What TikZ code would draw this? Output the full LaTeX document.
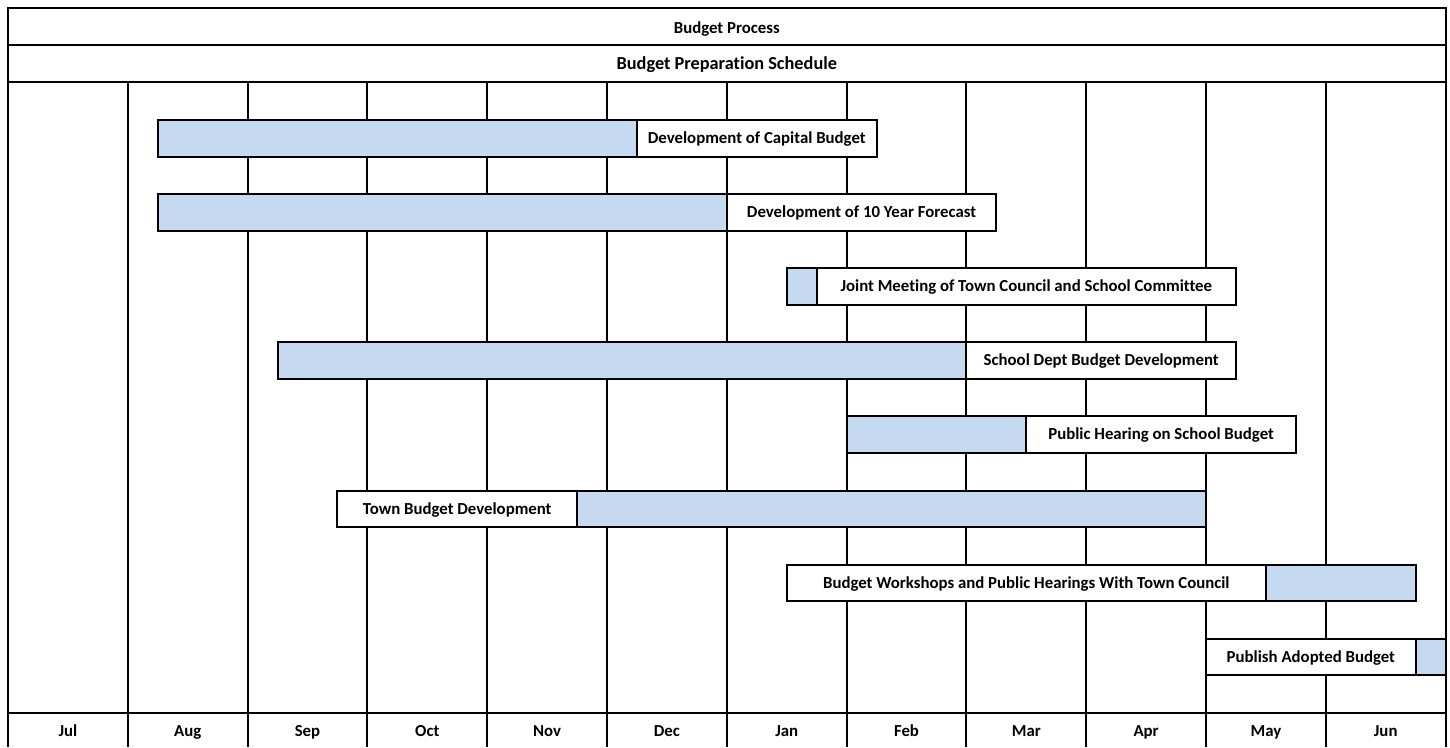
\documentclass[tikz,border=0pt]{standalone}
\usepackage{fontspec}
\setmainfont{Carlito}[Ligatures=NoCommon]
\definecolor{barblue}{RGB}{197,217,241}
\begin{document}
\begin{tikzpicture}[x=1bp,y=-1bp,
  every node/.style={font=\bfseries\fontsize{16.8bp}{19bp}\selectfont, inner sep=0pt, outer sep=0pt, text height=11bp, text depth=0.4bp},
  gridline/.style={line width=2bp, black},
  textbox/.style={draw=black, line width=2bp, fill=white, minimum height=36.5bp},
  bluebox/.style={draw=black, line width=2bp, fill=barblue, minimum height=36.5bp},
  titlebox/.style={draw=black, line width=2bp, fill=white, minimum width=1437.6bp, minimum height=36.8bp},
  titlefont/.style={text height=13.8bp, text depth=0bp},
  subtitlefont/.style={font=\bfseries\fontsize{18.3bp}{20bp}\selectfont, text height=12.2bp, text depth=0.2bp},
  monthlabel/.style={text height=13.8bp, text depth=0bp}]
\useasboundingbox (0,0) rectangle (1450,747);
\def\mw{119.8}
\newcommand\gpart[6]{\node[#2, anchor=north west, minimum width={(#4-#3)*119.8bp}] (#1) at ({8+#3*\mw}, #5) {#6};}
% title rows
\node[titlebox, titlefont, anchor=north west] (title) at (8,8) {Budget Process};
\node[titlebox, subtitlefont, anchor=north west] (subtitle) at (8,44.8) {Budget Preparation Schedule};
% frame and grid
\draw[gridline] (8,81.6) -- (8,747);
\draw[gridline] (1445.6,81.6) -- (1445.6,747);
\foreach \k in {1,...,11} {\draw[gridline] ({8+\k*\mw},81.6) -- ({8+\k*\mw},747);}
\draw[gridline] (8,713) -- (1445.6,713);
% month labels
\foreach \m [count=\i from 0] in {Jul,Aug,Sep,Oct,Nov,Dec,Jan,Feb,Mar,Apr,May,Jun}
  {\node[monthlabel] (m\i) at ({8+(\i+0.5)*\mw}, 730) {\m};}
% bars
\gpart{b1}{bluebox}{1.25}{5.25}{120}{}
\gpart{t1}{textbox}{5.25}{7.25}{120}{Development of Capital Budget}
\gpart{b2}{bluebox}{1.25}{6}{194.1}{}
\gpart{t2}{textbox}{6}{8.25}{194.1}{Development of 10 Year Forecast}
\gpart{b3}{bluebox}{6.5}{6.75}{268.2}{}
\gpart{t3}{textbox}{6.75}{10.25}{268.2}{Joint Meeting of Town Council and School Committee}
\gpart{b4}{bluebox}{2.25}{8}{342.3}{}
\gpart{t4}{textbox}{8}{10.25}{342.3}{School Dept Budget Development}
\gpart{b5}{bluebox}{7}{8.5}{416.4}{}
\gpart{t5}{textbox}{8.5}{10.75}{416.4}{Public Hearing on School Budget}
\gpart{t6}{textbox}{2.75}{4.75}{490.6}{Town Budget Development}
\gpart{b6}{bluebox}{4.75}{10}{490.6}{}
\gpart{t7}{textbox}{6.5}{10.5}{564.7}{Budget Workshops and Public Hearings With Town Council}
\gpart{b7}{bluebox}{10.5}{11.75}{564.7}{}
\gpart{t8}{textbox}{10}{11.75}{638.8}{Publish Adopted Budget}
\gpart{b8}{bluebox}{11.75}{12}{638.8}{}
\end{tikzpicture}
\end{document}
